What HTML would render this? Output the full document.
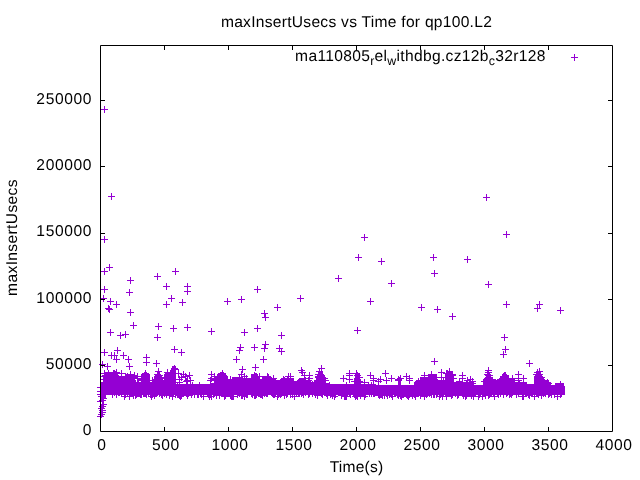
<!DOCTYPE html>
<html><head><meta charset="utf-8"><style>
html,body{margin:0;padding:0;background:#fff;width:640px;height:480px;overflow:hidden}
svg{display:block;will-change:transform}
text{text-rendering:geometricPrecision;font-family:"Liberation Sans",sans-serif;font-size:15.6px;fill:#000;letter-spacing:0.3px}
.d{letter-spacing:0.6px}
.s{font-size:12.4px}
</style></head><body>
<svg width="640" height="480" viewBox="0 0 640 480">
<rect width="640" height="480" fill="#fff"/>
<text class="d" x="102" y="450"  text-anchor="middle">0</text><text class="d" x="166" y="450"  text-anchor="middle">500</text><text class="d" x="230" y="450"  text-anchor="middle">1000</text><text class="d" x="294" y="450"  text-anchor="middle">1500</text><text class="d" x="358" y="450"  text-anchor="middle">2000</text><text class="d" x="422" y="450"  text-anchor="middle">2500</text><text class="d" x="486" y="450"  text-anchor="middle">3000</text><text class="d" x="550" y="450"  text-anchor="middle">3500</text><text class="d" x="614" y="450"  text-anchor="middle">4000</text><text class="d" x="92" y="435.1"  text-anchor="end">0</text><text class="d" x="92" y="368.9"  text-anchor="end">50000</text><text class="d" x="92" y="302.6"  text-anchor="end">100000</text><text class="d" x="92" y="236.3"  text-anchor="end">150000</text><text class="d" x="92" y="170.1"  text-anchor="end">200000</text><text class="d" x="92" y="103.8"  text-anchor="end">250000</text>
<text x="356.5" y="27"  text-anchor="middle" style="letter-spacing:0.27px">maxInsertUsecs vs Time for qp100.L2</text>
<text x="356.5" y="472.3"  text-anchor="middle" style="letter-spacing:0.2px">Time(s)</text>
<text transform="translate(17 237.5) rotate(-90)" text-anchor="middle" style="letter-spacing:0.36px">maxInsertUsecs</text>
<text x="545.7" y="61"  text-anchor="end" style="letter-spacing:0.31px">ma110805<tspan class="s" dy="3.5">r</tspan><tspan dy="-3.5">el</tspan><tspan class="s" dy="3.5">w</tspan><tspan dy="-3.5">ithdbg.cz12b</tspan><tspan class="s" dy="3.5">c</tspan><tspan dy="-3.5">32r128</tspan></text>
<path d="M571 57.5h7M574.5 54v7" stroke="#9400d3" stroke-width="1"/>
<path d="M101 395V383H102V383H103V383H104V383H105V372H106V372H107V372H108V372H109V372H110V372H111V372H112V372H113V370H114V370H115V371H116V371H117V372H118V376H119V376H120V376H121V376H122V376H123V376H124V376H125V374H126V374H127V374H128V374H129V374H130V374H131V374H132V374H133V374H134V376H135V380H136V383H137V383H138V383H139V383H140V383H141V374H142V374H143V373H144V372H145V370H146V372H147V373H148V374H149V374H150V382H151V382H152V382H153V382H154V376H155V375H156V374H157V373H158V373H159V374H160V375H161V376H162V381H163V381H164V374H165V373H166V373H167V373H168V373H169V373H170V370H171V368H172V366H173V366H174V365H175V368H176V384H177V384H178V384H179V384H180V384H181V384H182V384H183V384H184V384H185V384H186V384H187V384H188V384H189V384H190V384H191V384H192V384H193V384H194V384H195V384H196V384H197V384H198V384H199V384H200V384H201V384H202V384H203V384H204V384H205V384H206V384H207V384H208V384H209V384H210V384H211V384H212V384H213V384H214V384H215V384H216V376H217V374H218V373H219V373H220V372H221V372H222V370H223V372H224V373H225V374H226V375H227V376H228V380H229V380H230V380H231V380H232V377H233V377H234V377H235V377H236V377H237V377H238V377H239V378H240V378H241V378H242V378H243V378H244V378H245V378H246V378H247V378H248V378H249V378H250V378H251V374H252V374H253V374H254V374H255V373H256V373H257V374H258V376H259V378H260V380H261V379H262V376H263V376H264V376H265V376H266V376H267V376H268V376H269V376H270V376H271V379H272V379H273V379H274V379H275V379H276V380H277V380H278V380H279V380H280V380H281V378H282V378H283V378H284V378H285V378H286V378H287V378H288V378H289V378H290V378H291V378H292V378H293V378H294V382H295V383H296V382H297V381H298V379H299V378H300V378H301V378H302V378H303V378H304V378H305V379H306V380H307V380H308V381H309V381H310V381H311V382H312V382H313V382H314V382H315V380H316V378H317V375H318V374H319V372H320V371H321V370H322V371H323V374H324V376H325V380H326V383H327V383H328V383H329V384H330V384H331V384H332V384H333V384H334V384H335V384H336V384H337V384H338V384H339V384H340V384H341V384H342V384H343V384H344V384H345V384H346V384H347V384H348V384H349V384H350V384H351V384H352V384H353V384H354V380H355V373H356V373H357V372H358V373H359V376H360V380H361V384H362V384H363V384H364V384H365V384H366V384H367V384H368V384H369V384H370V384H371V384H372V384H373V384H374V384H375V384H376V385H377V385H378V385H379V385H380V385H381V385H382V385H383V385H384V385H385V385H386V385H387V385H388V385H389V385H390V385H391V385H392V385H393V385H394V385H395V385H396V385H397V385H398V377H399V377H400V377H401V385H402V385H403V385H404V385H405V385H406V385H407V385H408V385H409V385H410V385H411V385H412V385H413V385H414V382H415V382H416V380H417V380H418V380H419V380H420V377H421V377H422V377H423V377H424V377H425V377H426V377H427V377H428V374H429V374H430V374H431V374H432V374H433V374H434V374H435V374H436V374H437V380H438V380H439V380H440V380H441V380H442V380H443V380H444V380H445V373H446V372H447V372H448V372H449V372H450V372H451V372H452V372H453V374H454V382H455V382H456V382H457V382H458V382H459V382H460V382H461V382H462V382H463V382H464V382H465V382H466V382H467V382H468V382H469V382H470V382H471V382H472V382H473V382H474V385H475V385H476V385H477V385H478V385H479V385H480V385H481V385H482V385H483V380H484V378H485V377H486V375H487V374H488V372H489V374H490V375H491V377H492V378H493V379H494V379H495V379H496V380H497V380H498V380H499V378H500V376H501V376H502V374H503V374H504V372H505V373H506V374H507V375H508V376H509V379H510V379H511V379H512V379H513V379H514V379H515V382H516V382H517V382H518V382H519V382H520V382H521V382H522V382H523V382H524V382H525V382H526V382H527V384H528V384H529V384H530V384H531V384H532V384H533V384H534V376H535V374H536V372H537V371H538V371H539V371H540V372H541V374H542V376H543V379H544V380H545V381H546V381H547V382H548V382H549V383H550V384H551V385H552V385H553V385H554V385H555V383H556V383H557V383H558V383H559V383H560V383H561V383H562V383H563V383H564V386H565V395ZM101 395H106V398H101Z" fill="#9400d3" shape-rendering="crispEdges"/>
<path d="M101.0 373.5h7M104.5 370.0v7M101.0 376.5h7M104.5 373.0v7M100.0 379.5h7M103.5 376.0v7M101.0 382.5h7M104.5 379.0v7M102.0 375.5h7M105.5 372.0v7M118.0 373.5h7M121.5 370.0v7M113.0 372.5h7M116.5 369.0v7M127.0 374.5h7M130.5 371.0v7M131.0 375.5h7M134.5 372.0v7M131.0 377.5h7M134.5 374.0v7M134.0 376.5h7M137.5 373.0v7M134.0 378.5h7M137.5 375.0v7M135.0 382.5h7M138.5 379.0v7M138.0 380.5h7M141.5 377.0v7M142.0 373.5h7M145.5 370.0v7M155.0 371.5h7M158.5 368.0v7M154.0 374.5h7M157.5 371.0v7M157.0 377.5h7M160.5 374.0v7M153.0 379.5h7M156.5 376.0v7M164.0 372.5h7M167.5 369.0v7M164.0 375.5h7M167.5 372.0v7M159.0 380.5h7M162.5 377.0v7M149.0 380.5h7M152.5 377.0v7M171.0 368.5h7M174.5 365.0v7M172.0 369.5h7M175.5 366.0v7M175.0 373.5h7M178.5 370.0v7M180.0 374.5h7M183.5 371.0v7M178.0 377.5h7M181.5 374.0v7M182.0 376.5h7M185.5 373.0v7M186.0 375.5h7M189.5 372.0v7M176.0 379.5h7M179.5 376.0v7M184.0 380.5h7M187.5 377.0v7M176.0 382.5h7M179.5 379.0v7M183.0 381.5h7M186.5 378.0v7M187.0 380.5h7M190.5 377.0v7M208.0 374.5h7M211.5 371.0v7M211.0 376.5h7M214.5 373.0v7M208.0 378.5h7M211.5 375.0v7M212.0 379.5h7M215.5 376.0v7M207.0 380.5h7M210.5 377.0v7M211.0 383.5h7M214.5 380.0v7M196.0 385.5h7M199.5 382.0v7M219.0 373.5h7M222.5 370.0v7M238.0 374.5h7M241.5 371.0v7M236.0 377.5h7M239.5 374.0v7M241.0 376.5h7M244.5 373.0v7M243.0 378.5h7M246.5 375.0v7M227.0 379.5h7M230.5 376.0v7M264.0 376.5h7M267.5 373.0v7M270.0 378.5h7M273.5 375.0v7M285.0 376.5h7M288.5 373.0v7M287.0 376.5h7M290.5 373.0v7M284.0 379.5h7M287.5 376.0v7M280.0 379.5h7M283.5 376.0v7M256.0 376.5h7M259.5 373.0v7M298.0 370.5h7M301.5 367.0v7M299.0 372.5h7M302.5 369.0v7M301.0 375.5h7M304.5 372.0v7M306.0 375.5h7M309.5 372.0v7M306.0 378.5h7M309.5 375.0v7M305.0 380.5h7M308.5 377.0v7M318.0 368.5h7M321.5 365.0v7M316.0 371.5h7M319.5 368.0v7M315.0 374.5h7M318.5 371.0v7M321.0 378.5h7M324.5 375.0v7M322.0 380.5h7M325.5 377.0v7M315.0 376.5h7M318.5 373.0v7M314.0 380.5h7M317.5 377.0v7M340.0 378.5h7M343.5 375.0v7M346.0 373.5h7M349.5 370.0v7M346.0 375.5h7M349.5 372.0v7M346.0 379.5h7M349.5 376.0v7M353.0 373.5h7M356.5 370.0v7M354.0 375.5h7M357.5 372.0v7M355.0 377.5h7M358.5 374.0v7M354.0 379.5h7M357.5 376.0v7M356.0 381.5h7M359.5 378.0v7M367.0 375.5h7M370.5 372.0v7M370.0 378.5h7M373.5 375.0v7M370.0 380.5h7M373.5 377.0v7M361.0 382.5h7M364.5 379.0v7M382.0 373.5h7M385.5 370.0v7M377.0 379.5h7M380.5 376.0v7M383.0 380.5h7M386.5 377.0v7M388.0 378.5h7M391.5 375.0v7M395.0 379.5h7M398.5 376.0v7M403.0 376.5h7M406.5 373.0v7M406.0 378.5h7M409.5 375.0v7M406.0 380.5h7M409.5 377.0v7M375.0 381.5h7M378.5 378.0v7M421.0 375.5h7M424.5 372.0v7M428.0 374.5h7M431.5 371.0v7M438.0 372.5h7M441.5 369.0v7M446.0 371.5h7M449.5 368.0v7M449.0 374.5h7M452.5 371.0v7M447.0 377.5h7M450.5 374.0v7M438.0 377.5h7M441.5 374.0v7M440.0 380.5h7M443.5 377.0v7M415.0 381.5h7M418.5 378.0v7M459.0 375.5h7M462.5 372.0v7M459.0 378.5h7M462.5 375.0v7M456.0 381.5h7M459.5 378.0v7M467.0 379.5h7M470.5 376.0v7M464.0 380.5h7M467.5 377.0v7M469.0 381.5h7M472.5 378.0v7M485.0 370.5h7M488.5 367.0v7M485.0 372.5h7M488.5 369.0v7M484.0 374.5h7M487.5 371.0v7M486.0 377.5h7M489.5 374.0v7M483.0 379.5h7M486.5 376.0v7M487.0 380.5h7M490.5 377.0v7M515.0 374.5h7M518.5 371.0v7M515.0 378.5h7M518.5 375.0v7M520.0 378.5h7M523.5 375.0v7M515.0 380.5h7M518.5 377.0v7M509.0 378.5h7M512.5 375.0v7M502.0 375.5h7M505.5 372.0v7M536.0 371.5h7M539.5 368.0v7M536.0 374.5h7M539.5 371.0v7M538.0 377.5h7M541.5 374.0v7M540.0 380.5h7M543.5 377.0v7M544.0 382.5h7M547.5 379.0v7M557.0 384.5h7M560.5 381.0v7M109.0 394.5h7M112.5 391.0v7M111.0 392.5h7M114.5 389.0v7M113.0 394.5h7M116.5 391.0v7M115.0 392.5h7M118.5 389.0v7M116.0 392.5h7M119.5 389.0v7M118.0 393.5h7M121.5 390.0v7M121.0 396.5h7M124.5 393.0v7M122.0 394.5h7M125.5 391.0v7M124.0 392.5h7M127.5 389.0v7M126.0 396.5h7M129.5 393.0v7M127.0 393.5h7M130.5 390.0v7M129.0 393.5h7M132.5 390.0v7M130.0 395.5h7M133.5 392.0v7M132.0 395.5h7M135.5 392.0v7M133.0 394.5h7M136.5 391.0v7M134.0 393.5h7M137.5 390.0v7M135.0 393.5h7M138.5 390.0v7M136.0 393.5h7M139.5 390.0v7M137.0 394.5h7M140.5 391.0v7M138.0 394.5h7M141.5 391.0v7M140.0 393.5h7M143.5 390.0v7M141.0 393.5h7M144.5 390.0v7M142.0 393.5h7M145.5 390.0v7M143.0 394.5h7M146.5 391.0v7M145.0 392.5h7M148.5 389.0v7M147.0 394.5h7M150.5 391.0v7M148.0 396.5h7M151.5 393.0v7M149.0 394.5h7M152.5 391.0v7M150.0 392.5h7M153.5 389.0v7M151.0 395.5h7M154.5 392.0v7M152.0 393.5h7M155.5 390.0v7M153.0 393.5h7M156.5 390.0v7M156.0 393.5h7M159.5 390.0v7M158.0 394.5h7M161.5 391.0v7M159.0 395.5h7M162.5 392.0v7M161.0 393.5h7M164.5 390.0v7M162.0 392.5h7M165.5 389.0v7M163.0 394.5h7M166.5 391.0v7M166.0 395.5h7M169.5 392.0v7M167.0 393.5h7M170.5 390.0v7M169.0 396.5h7M172.5 393.0v7M170.0 393.5h7M173.5 390.0v7M172.0 394.5h7M175.5 391.0v7M173.0 392.5h7M176.5 389.0v7M174.0 394.5h7M177.5 391.0v7M175.0 394.5h7M178.5 391.0v7M176.0 395.5h7M179.5 392.0v7M177.0 396.5h7M180.5 393.0v7M178.0 395.5h7M181.5 392.0v7M179.0 392.5h7M182.5 389.0v7M183.0 393.5h7M186.5 390.0v7M184.0 395.5h7M187.5 392.0v7M185.0 393.5h7M188.5 390.0v7M188.0 394.5h7M191.5 391.0v7M189.0 392.5h7M192.5 389.0v7M191.0 394.5h7M194.5 391.0v7M194.0 394.5h7M197.5 391.0v7M195.0 394.5h7M198.5 391.0v7M197.0 393.5h7M200.5 390.0v7M198.0 394.5h7M201.5 391.0v7M200.0 396.5h7M203.5 393.0v7M204.0 393.5h7M207.5 390.0v7M205.0 394.5h7M208.5 391.0v7M206.0 396.5h7M209.5 393.0v7M207.0 394.5h7M210.5 391.0v7M208.0 396.5h7M211.5 393.0v7M210.0 394.5h7M213.5 391.0v7M213.0 395.5h7M216.5 392.0v7M216.0 395.5h7M219.5 392.0v7M219.0 393.5h7M222.5 390.0v7M220.0 392.5h7M223.5 389.0v7M221.0 396.5h7M224.5 393.0v7M222.0 395.5h7M225.5 392.0v7M223.0 393.5h7M226.5 390.0v7M227.0 395.5h7M230.5 392.0v7M228.0 396.5h7M231.5 393.0v7M229.0 396.5h7M232.5 393.0v7M230.0 396.5h7M233.5 393.0v7M234.0 394.5h7M237.5 391.0v7M236.0 393.5h7M239.5 390.0v7M238.0 395.5h7M241.5 392.0v7M239.0 395.5h7M242.5 392.0v7M241.0 396.5h7M244.5 393.0v7M243.0 394.5h7M246.5 391.0v7M244.0 394.5h7M247.5 391.0v7M248.0 393.5h7M251.5 390.0v7M249.0 394.5h7M252.5 391.0v7M251.0 395.5h7M254.5 392.0v7M252.0 395.5h7M255.5 392.0v7M253.0 394.5h7M256.5 391.0v7M255.0 393.5h7M258.5 390.0v7M256.0 393.5h7M259.5 390.0v7M257.0 394.5h7M260.5 391.0v7M258.0 394.5h7M261.5 391.0v7M259.0 395.5h7M262.5 392.0v7M261.0 393.5h7M264.5 390.0v7M263.0 393.5h7M266.5 390.0v7M264.0 393.5h7M267.5 390.0v7M268.0 392.5h7M271.5 389.0v7M269.0 393.5h7M272.5 390.0v7M270.0 394.5h7M273.5 391.0v7M271.0 394.5h7M274.5 391.0v7M272.0 393.5h7M275.5 390.0v7M274.0 396.5h7M277.5 393.0v7M275.0 394.5h7M278.5 391.0v7M276.0 393.5h7M279.5 390.0v7M277.0 394.5h7M280.5 391.0v7M278.0 393.5h7M281.5 390.0v7M281.0 395.5h7M284.5 392.0v7M282.0 392.5h7M285.5 389.0v7M283.0 394.5h7M286.5 391.0v7M284.0 393.5h7M287.5 390.0v7M287.0 394.5h7M290.5 391.0v7M289.0 394.5h7M292.5 391.0v7M291.0 396.5h7M294.5 393.0v7M293.0 393.5h7M296.5 390.0v7M295.0 393.5h7M298.5 390.0v7M296.0 393.5h7M299.5 390.0v7M298.0 393.5h7M301.5 390.0v7M299.0 392.5h7M302.5 389.0v7M300.0 394.5h7M303.5 391.0v7M302.0 392.5h7M305.5 389.0v7M305.0 394.5h7M308.5 391.0v7M306.0 393.5h7M309.5 390.0v7M309.0 393.5h7M312.5 390.0v7M312.0 394.5h7M315.5 391.0v7M314.0 395.5h7M317.5 392.0v7M318.0 393.5h7M321.5 390.0v7M319.0 394.5h7M322.5 391.0v7M323.0 393.5h7M326.5 390.0v7M324.0 395.5h7M327.5 392.0v7M326.0 392.5h7M329.5 389.0v7M327.0 394.5h7M330.5 391.0v7M329.0 395.5h7M332.5 392.0v7M330.0 392.5h7M333.5 389.0v7M331.0 396.5h7M334.5 393.0v7M332.0 394.5h7M335.5 391.0v7M338.0 395.5h7M341.5 392.0v7M340.0 393.5h7M343.5 390.0v7M341.0 396.5h7M344.5 393.0v7M342.0 396.5h7M345.5 393.0v7M343.0 396.5h7M346.5 393.0v7M344.0 393.5h7M347.5 390.0v7M346.0 393.5h7M349.5 390.0v7M347.0 394.5h7M350.5 391.0v7M351.0 394.5h7M354.5 391.0v7M352.0 396.5h7M355.5 393.0v7M353.0 395.5h7M356.5 392.0v7M354.0 396.5h7M357.5 393.0v7M355.0 392.5h7M358.5 389.0v7M357.0 395.5h7M360.5 392.0v7M358.0 392.5h7M361.5 389.0v7M361.0 396.5h7M364.5 393.0v7M362.0 394.5h7M365.5 391.0v7M366.0 393.5h7M369.5 390.0v7M368.0 393.5h7M371.5 390.0v7M370.0 393.5h7M373.5 390.0v7M371.0 393.5h7M374.5 390.0v7M372.0 392.5h7M375.5 389.0v7M375.0 394.5h7M378.5 391.0v7M376.0 395.5h7M379.5 392.0v7M377.0 394.5h7M380.5 391.0v7M378.0 394.5h7M381.5 391.0v7M379.0 395.5h7M382.5 392.0v7M381.0 395.5h7M384.5 392.0v7M382.0 392.5h7M385.5 389.0v7M383.0 393.5h7M386.5 390.0v7M384.0 395.5h7M387.5 392.0v7M386.0 394.5h7M389.5 391.0v7M387.0 393.5h7M390.5 390.0v7M388.0 394.5h7M391.5 391.0v7M389.0 396.5h7M392.5 393.0v7M391.0 393.5h7M394.5 390.0v7M394.0 394.5h7M397.5 391.0v7M395.0 395.5h7M398.5 392.0v7M396.0 393.5h7M399.5 390.0v7M397.0 395.5h7M400.5 392.0v7M398.0 396.5h7M401.5 393.0v7M399.0 394.5h7M402.5 391.0v7M400.0 394.5h7M403.5 391.0v7M402.0 393.5h7M405.5 390.0v7M403.0 394.5h7M406.5 391.0v7M404.0 395.5h7M407.5 392.0v7M405.0 396.5h7M408.5 393.0v7M406.0 394.5h7M409.5 391.0v7M408.0 392.5h7M411.5 389.0v7M409.0 395.5h7M412.5 392.0v7M410.0 393.5h7M413.5 390.0v7M411.0 394.5h7M414.5 391.0v7M412.0 396.5h7M415.5 393.0v7M413.0 393.5h7M416.5 390.0v7M417.0 395.5h7M420.5 392.0v7M421.0 396.5h7M424.5 393.0v7M422.0 392.5h7M425.5 389.0v7M423.0 394.5h7M426.5 391.0v7M424.0 393.5h7M427.5 390.0v7M425.0 392.5h7M428.5 389.0v7M426.0 393.5h7M429.5 390.0v7M427.0 392.5h7M430.5 389.0v7M428.0 394.5h7M431.5 391.0v7M430.0 394.5h7M433.5 391.0v7M431.0 394.5h7M434.5 391.0v7M433.0 394.5h7M436.5 391.0v7M434.0 393.5h7M437.5 390.0v7M436.0 396.5h7M439.5 393.0v7M437.0 394.5h7M440.5 391.0v7M438.0 393.5h7M441.5 390.0v7M439.0 396.5h7M442.5 393.0v7M440.0 393.5h7M443.5 390.0v7M442.0 392.5h7M445.5 389.0v7M443.0 396.5h7M446.5 393.0v7M444.0 392.5h7M447.5 389.0v7M447.0 393.5h7M450.5 390.0v7M448.0 395.5h7M451.5 392.0v7M449.0 394.5h7M452.5 391.0v7M452.0 393.5h7M455.5 390.0v7M454.0 395.5h7M457.5 392.0v7M455.0 394.5h7M458.5 391.0v7M459.0 393.5h7M462.5 390.0v7M460.0 395.5h7M463.5 392.0v7M462.0 396.5h7M465.5 393.0v7M463.0 395.5h7M466.5 392.0v7M464.0 392.5h7M467.5 389.0v7M466.0 393.5h7M469.5 390.0v7M467.0 392.5h7M470.5 389.0v7M468.0 395.5h7M471.5 392.0v7M469.0 392.5h7M472.5 389.0v7M470.0 396.5h7M473.5 393.0v7M472.0 393.5h7M475.5 390.0v7M475.0 396.5h7M478.5 393.0v7M476.0 394.5h7M479.5 391.0v7M477.0 393.5h7M480.5 390.0v7M479.0 396.5h7M482.5 393.0v7M480.0 393.5h7M483.5 390.0v7M482.0 395.5h7M485.5 392.0v7M483.0 392.5h7M486.5 389.0v7M485.0 395.5h7M488.5 392.0v7M486.0 394.5h7M489.5 391.0v7M487.0 393.5h7M490.5 390.0v7M488.0 393.5h7M491.5 390.0v7M490.0 393.5h7M493.5 390.0v7M491.0 396.5h7M494.5 393.0v7M494.0 393.5h7M497.5 390.0v7M495.0 394.5h7M498.5 391.0v7M497.0 393.5h7M500.5 390.0v7M500.0 394.5h7M503.5 391.0v7M503.0 393.5h7M506.5 390.0v7M504.0 392.5h7M507.5 389.0v7M506.0 394.5h7M509.5 391.0v7M507.0 393.5h7M510.5 390.0v7M508.0 394.5h7M511.5 391.0v7M509.0 392.5h7M512.5 389.0v7M513.0 394.5h7M516.5 391.0v7M515.0 393.5h7M518.5 390.0v7M519.0 396.5h7M522.5 393.0v7M520.0 396.5h7M523.5 393.0v7M522.0 393.5h7M525.5 390.0v7M525.0 394.5h7M528.5 391.0v7M526.0 395.5h7M529.5 392.0v7M531.0 396.5h7M534.5 393.0v7M533.0 393.5h7M536.5 390.0v7M534.0 393.5h7M537.5 390.0v7M535.0 394.5h7M538.5 391.0v7M537.0 392.5h7M540.5 389.0v7M538.0 395.5h7M541.5 392.0v7M539.0 392.5h7M542.5 389.0v7M540.0 393.5h7M543.5 390.0v7M542.0 393.5h7M545.5 390.0v7M545.0 394.5h7M548.5 391.0v7M546.0 393.5h7M549.5 390.0v7M547.0 392.5h7M550.5 389.0v7M548.0 394.5h7M551.5 391.0v7M551.0 394.5h7M554.5 391.0v7M554.0 396.5h7M557.5 393.0v7M557.0 393.5h7M560.5 390.0v7M558.0 393.5h7M561.5 390.0v7M558.0 386.5h7M561.5 383.0v7M558.0 388.5h7M561.5 385.0v7M557.0 390.5h7M560.5 387.0v7M558.0 392.5h7M561.5 389.0v7M557.0 394.5h7M560.5 391.0v7M103.0 375.5h7M106.5 372.0v7M105.0 373.5h7M108.5 370.0v7M106.0 376.5h7M109.5 373.0v7M107.0 377.5h7M110.5 374.0v7M110.0 373.5h7M113.5 370.0v7M112.0 375.5h7M115.5 372.0v7M115.0 379.5h7M118.5 376.0v7M120.0 379.5h7M123.5 376.0v7M122.0 376.5h7M125.5 373.0v7M124.0 376.5h7M127.5 373.0v7M127.0 376.5h7M130.5 373.0v7M133.0 385.5h7M136.5 382.0v7M139.0 379.5h7M142.5 376.0v7M140.0 376.5h7M143.5 373.0v7M150.0 384.5h7M153.5 381.0v7M156.0 375.5h7M159.5 372.0v7M157.0 378.5h7M160.5 375.0v7M163.0 378.5h7M166.5 375.0v7M164.0 374.5h7M167.5 371.0v7M174.0 385.5h7M177.5 382.0v7M189.0 385.5h7M192.5 382.0v7M196.0 385.5h7M199.5 382.0v7M207.0 385.5h7M210.5 382.0v7M212.0 385.5h7M215.5 382.0v7M216.0 376.5h7M219.5 373.0v7M217.0 376.5h7M220.5 373.0v7M219.0 373.5h7M222.5 370.0v7M222.0 379.5h7M225.5 376.0v7M226.0 385.5h7M229.5 382.0v7M227.0 381.5h7M230.5 378.0v7M228.0 383.5h7M231.5 380.0v7M230.0 380.5h7M233.5 377.0v7M239.0 379.5h7M242.5 376.0v7M241.0 381.5h7M244.5 378.0v7M246.0 381.5h7M249.5 378.0v7M249.0 378.5h7M252.5 375.0v7M251.0 375.5h7M254.5 372.0v7M255.0 381.5h7M258.5 378.0v7M257.0 383.5h7M260.5 380.0v7M260.0 379.5h7M263.5 376.0v7M262.0 379.5h7M265.5 376.0v7M265.0 377.5h7M268.5 374.0v7M266.0 379.5h7M269.5 376.0v7M268.0 382.5h7M271.5 379.0v7M269.0 382.5h7M272.5 379.0v7M271.0 384.5h7M274.5 381.0v7M272.0 382.5h7M275.5 379.0v7M276.0 383.5h7M279.5 380.0v7M278.0 381.5h7M281.5 378.0v7M281.0 380.5h7M284.5 377.0v7M283.0 381.5h7M286.5 378.0v7M287.0 380.5h7M290.5 377.0v7M288.0 381.5h7M291.5 378.0v7M289.0 382.5h7M292.5 379.0v7M290.0 381.5h7M293.5 378.0v7M294.0 383.5h7M297.5 380.0v7M302.0 380.5h7M305.5 377.0v7M309.0 384.5h7M312.5 381.0v7M311.0 384.5h7M314.5 381.0v7M315.0 377.5h7M318.5 374.0v7M316.0 374.5h7M319.5 371.0v7M318.0 375.5h7M321.5 372.0v7M322.0 385.5h7M325.5 382.0v7M326.0 385.5h7M329.5 382.0v7M343.0 385.5h7M346.5 382.0v7M351.0 381.5h7M354.5 378.0v7M354.0 375.5h7M357.5 372.0v7M356.0 377.5h7M359.5 374.0v7M365.0 385.5h7M368.5 382.0v7M368.0 385.5h7M371.5 382.0v7M395.0 380.5h7M398.5 377.0v7M397.0 378.5h7M400.5 375.0v7M411.0 385.5h7M414.5 382.0v7M415.0 384.5h7M418.5 381.0v7M426.0 379.5h7M429.5 376.0v7M431.0 379.5h7M434.5 376.0v7M433.0 377.5h7M436.5 374.0v7M435.0 383.5h7M438.5 380.0v7M436.0 383.5h7M439.5 380.0v7M440.0 382.5h7M443.5 379.0v7M442.0 377.5h7M445.5 374.0v7M443.0 373.5h7M446.5 370.0v7M444.0 373.5h7M447.5 370.0v7M449.0 375.5h7M452.5 372.0v7M450.0 378.5h7M453.5 375.0v7M454.0 385.5h7M457.5 382.0v7M458.0 384.5h7M461.5 381.0v7M463.0 383.5h7M466.5 380.0v7M464.0 385.5h7M467.5 382.0v7M469.0 383.5h7M472.5 380.0v7M481.0 381.5h7M484.5 378.0v7M485.0 375.5h7M488.5 372.0v7M486.0 375.5h7M489.5 372.0v7M491.0 382.5h7M494.5 379.0v7M492.0 382.5h7M495.5 379.0v7M493.0 384.5h7M496.5 381.0v7M497.0 379.5h7M500.5 376.0v7M500.0 376.5h7M503.5 373.0v7M501.0 376.5h7M504.5 373.0v7M502.0 378.5h7M505.5 375.0v7M506.0 383.5h7M509.5 380.0v7M509.0 383.5h7M512.5 380.0v7M511.0 384.5h7M514.5 381.0v7M516.0 383.5h7M519.5 380.0v7M533.0 374.5h7M536.5 371.0v7M534.0 372.5h7M537.5 369.0v7M536.0 374.5h7M539.5 371.0v7M538.0 379.5h7M541.5 376.0v7M540.0 382.5h7M543.5 379.0v7M545.0 383.5h7M548.5 380.0v7M97.0 401.5h7M100.5 398.0v7M99.0 406.5h7M102.5 403.0v7M98.0 408.5h7M101.5 405.0v7M100.0 404.5h7M103.5 401.0v7M99.0 412.5h7M102.5 409.0v7M98.0 414.5h7M101.5 411.0v7M97.0 416.5h7M100.5 413.0v7M100.0 398.5h7M103.5 395.0v7M99.0 410.5h7M102.5 407.0v7M97.0 394.5h7M100.5 391.0v7M97.0 391.5h7M100.5 388.0v7M97.0 387.5h7M100.5 384.0v7M98.0 396.5h7M101.5 393.0v7M99.0 400.5h7M102.5 397.0v7M101.0 109.5h7M104.5 106.0v7M108.0 196.5h7M111.5 193.0v7M101.0 239.5h7M104.5 236.0v7M101.0 271.5h7M104.5 268.0v7M106.0 267.5h7M109.5 264.0v7M127.0 280.5h7M130.5 277.0v7M154.0 276.5h7M157.5 273.0v7M172.0 271.5h7M175.5 268.0v7M361.0 237.5h7M364.5 234.0v7M355.0 257.5h7M358.5 254.0v7M378.0 261.5h7M381.5 258.0v7M335.0 278.5h7M338.5 275.0v7M483.0 197.5h7M486.5 194.0v7M503.0 234.5h7M506.5 231.0v7M430.0 257.5h7M433.5 254.0v7M464.0 259.5h7M467.5 256.0v7M431.0 273.5h7M434.5 270.0v7M101.0 289.5h7M104.5 286.0v7M126.0 292.5h7M129.5 289.0v7M163.0 286.5h7M166.5 283.0v7M100.0 298.5h7M103.5 295.0v7M107.0 301.5h7M110.5 298.0v7M113.0 304.5h7M116.5 301.0v7M105.0 308.5h7M108.5 305.0v7M106.0 309.5h7M109.5 306.0v7M168.0 298.5h7M171.5 295.0v7M163.0 304.5h7M166.5 301.0v7M127.0 312.5h7M130.5 309.0v7M130.0 325.5h7M133.5 322.0v7M155.0 326.5h7M158.5 323.0v7M170.0 328.5h7M173.5 325.0v7M184.0 286.5h7M187.5 283.0v7M184.0 291.5h7M187.5 288.0v7M179.0 302.5h7M182.5 299.0v7M224.0 301.5h7M227.5 298.0v7M238.0 299.5h7M241.5 296.0v7M254.0 289.5h7M257.5 286.0v7M297.0 298.5h7M300.5 295.0v7M274.0 307.5h7M277.5 304.0v7M261.0 313.5h7M264.5 310.0v7M262.0 317.5h7M265.5 314.0v7M254.0 328.5h7M257.5 325.0v7M388.0 283.5h7M391.5 280.0v7M367.0 301.5h7M370.5 298.0v7M485.0 284.5h7M488.5 281.0v7M418.0 307.5h7M421.5 304.0v7M434.0 309.5h7M437.5 306.0v7M449.0 316.5h7M452.5 313.0v7M503.0 304.5h7M506.5 301.0v7M536.0 304.5h7M539.5 301.0v7M534.0 308.5h7M537.5 305.0v7M557.0 310.5h7M560.5 307.0v7M107.0 332.5h7M110.5 329.0v7M117.0 335.5h7M120.5 332.0v7M122.0 334.5h7M125.5 331.0v7M154.0 337.5h7M157.5 334.0v7M171.0 349.5h7M174.5 346.0v7M101.0 352.5h7M104.5 349.0v7M108.0 355.5h7M111.5 352.0v7M111.0 355.5h7M114.5 352.0v7M114.0 350.5h7M117.5 347.0v7M113.0 359.5h7M116.5 356.0v7M120.0 355.5h7M123.5 352.0v7M125.0 359.5h7M128.5 356.0v7M126.0 366.5h7M129.5 363.0v7M143.0 357.5h7M146.5 354.0v7M143.0 362.5h7M146.5 359.0v7M153.0 363.5h7M156.5 360.0v7M99.0 364.5h7M102.5 361.0v7M104.0 366.5h7M107.5 363.0v7M184.0 327.5h7M187.5 324.0v7M208.0 331.5h7M211.5 328.0v7M241.0 332.5h7M244.5 329.0v7M178.0 352.5h7M181.5 349.0v7M237.0 347.5h7M240.5 344.0v7M236.0 350.5h7M239.5 347.0v7M233.0 359.5h7M236.5 356.0v7M239.0 369.5h7M242.5 366.0v7M251.0 347.5h7M254.5 344.0v7M252.0 367.5h7M255.5 364.0v7M278.0 335.5h7M281.5 332.0v7M262.0 344.5h7M265.5 341.0v7M261.0 348.5h7M264.5 345.0v7M276.0 348.5h7M279.5 345.0v7M278.0 351.5h7M281.5 348.0v7M260.0 359.5h7M263.5 356.0v7M354.0 330.5h7M357.5 327.0v7M431.0 361.5h7M434.5 358.0v7M501.0 337.5h7M504.5 334.0v7M502.0 349.5h7M505.5 346.0v7M500.0 354.5h7M503.5 351.0v7M526.0 363.5h7M529.5 360.0v7" stroke="#9400d3" stroke-width="1" fill="none"/>
<g stroke="#000" stroke-width="1" fill="none">
<path d="M100.5 45.5H612.5V431.5H100.5Z"/>
<path d="M164.5 431.5v-4.5M164.5 45.5v4.5"/><path d="M228.5 431.5v-4.5M228.5 45.5v4.5"/><path d="M292.5 431.5v-4.5M292.5 45.5v4.5"/><path d="M356.5 431.5v-4.5M356.5 45.5v4.5"/><path d="M420.5 431.5v-4.5M420.5 45.5v4.5"/><path d="M484.5 431.5v-4.5M484.5 45.5v4.5"/><path d="M548.5 431.5v-4.5M548.5 45.5v4.5"/><path d="M100.5 365.5h4.5M612.5 365.5h-4.5"/><path d="M100.5 299.5h4.5M612.5 299.5h-4.5"/><path d="M100.5 233.5h4.5M612.5 233.5h-4.5"/><path d="M100.5 166.5h4.5M612.5 166.5h-4.5"/><path d="M100.5 100.5h4.5M612.5 100.5h-4.5"/>
</g>
</svg>
</body></html>
